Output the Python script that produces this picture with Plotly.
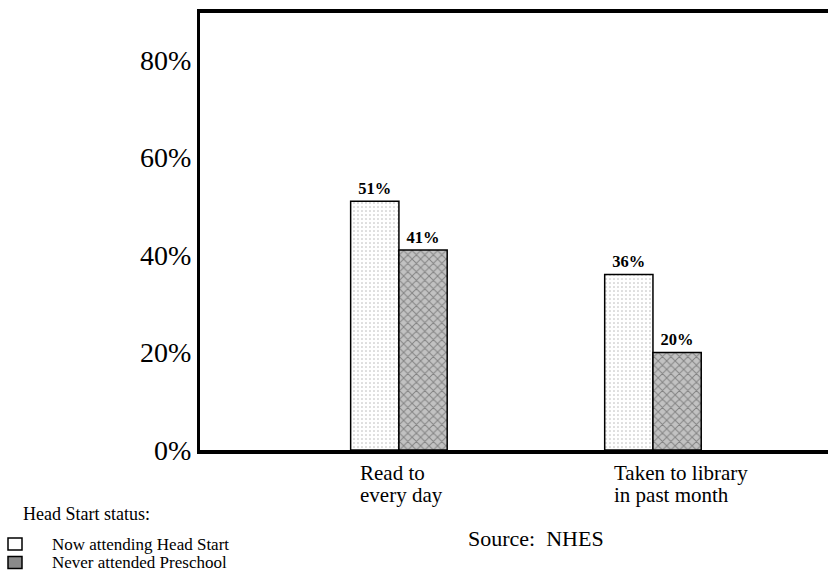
import plotly.graph_objects as go

categories = ["Read to<br>every day", "Taken to library<br>in past month"]
head_start = [51, 36]
never_preschool = [41, 20]
series_names = ["Now attending Head Start", "Never attended Preschool"]
legend_title = "Head Start status:"
source_note = "Source:  NHES"
y_ticks = [0, 20, 40, 60, 80]

serif = "Liberation Serif, Times New Roman, serif"
pos = list(range(len(categories)))

W, H = 828, 573
L, R, T, B = 200, 0, 13, 123
pw, ph = W - L - R, H - T - B


def px(x):
    return (x - L) / pw


def py(y):
    return (H - B - y) / ph


fig = go.Figure()
fig.add_trace(go.Bar(
    x=pos, y=head_start, name=series_names[0],
    width=0.19, offset=-0.19, showlegend=False,
    marker=dict(color="white", line=dict(color="black", width=1.5),
                pattern=dict(shape=".", fgcolor="#666", bgcolor="white", size=4, solidity=0.12)),
    text=[f"{v}%" for v in head_start], texttemplate="<b>%{text}</b>", textposition="outside",
    textfont=dict(family=serif, size=16.5, color="black"), cliponaxis=False,
))
fig.add_trace(go.Bar(
    x=pos, y=never_preschool, name=series_names[1],
    width=0.19, offset=0, showlegend=False,
    marker=dict(color="#aaa", line=dict(color="black", width=1.5),
                pattern=dict(shape="x", fgcolor="#444", bgcolor="#c2c2c2", size=6, solidity=0.3)),
    text=[f"{v}%" for v in never_preschool], texttemplate="<b>%{text}</b>", textposition="outside",
    textfont=dict(family=serif, size=16.5, color="black"), cliponaxis=False,
))

# category labels, left aligned under each group, tight line spacing
for p, c in zip(pos, categories):
    for i, line in enumerate(c.split("<br>")):
        fig.add_annotation(x=p - 0.161, y=0, xref="x", yref="y", yshift=-23 - 22 * i,
                           text=line, showarrow=False, xanchor="left", yanchor="middle",
                           font=dict(family=serif, size=21, color="black"))

fig.add_annotation(x=px(466), y=py(538), xref="paper", yref="paper",
                   text=source_note, showarrow=False, xanchor="left", yanchor="middle",
                   font=dict(family=serif, size=22, color="black"))

# hand-drawn legend below the axis on the left
fig.add_annotation(x=px(21), y=py(514), xref="paper", yref="paper",
                   text=legend_title, showarrow=False, xanchor="left", yanchor="middle",
                   font=dict(family=serif, size=18, color="black"))
swatch_fill = ["white", "#8a8a8a"]
for i, (name, fill) in enumerate(zip(series_names, swatch_fill)):
    yc = 544 + 18.5 * i
    fig.add_shape(type="rect", xref="paper", yref="paper",
                  x0=px(8), x1=px(22), y0=py(yc - 6), y1=py(yc + 6),
                  fillcolor=fill, line=dict(color="black", width=1.5))
    fig.add_annotation(x=px(50), y=py(yc), xref="paper", yref="paper",
                       text=name, showarrow=False, xanchor="left", yanchor="middle",
                       font=dict(family=serif, size=17, color="black"))

fig.update_layout(
    width=W, height=H,
    margin=dict(l=L, r=R, t=T, b=B),
    paper_bgcolor="white", plot_bgcolor="white",
    barmode="overlay",
    showlegend=False,
    xaxis=dict(range=[-0.783, 1.689], showticklabels=False, ticks="",
               showgrid=False, zeroline=False,
               showline=True, linecolor="black", linewidth=4, mirror=True),
    yaxis=dict(range=[0, 89.6], tickvals=y_ticks, ticktext=[f"{v}%" for v in y_ticks],
               tickfont=dict(family=serif, size=28, color="black"), ticklabelstandoff=0,
               showgrid=False, zeroline=False, ticks="",
               showline=True, linecolor="black", linewidth=3),
)

fig.write_html("out.html", config={"displayModeBar": False},
               post_script="document.body.style.margin='0';")
